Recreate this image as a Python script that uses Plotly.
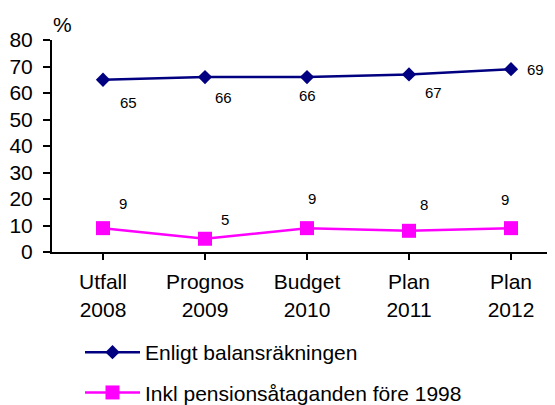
import plotly.graph_objects as go

categories = ["Utfall<br>2008", "Prognos<br>2009", "Budget<br>2010", "Plan<br>2011", "Plan<br>2012"]
balans = [65, 66, 66, 67, 69]
inkl = [9, 5, 9, 8, 9]
name_balans = "Enligt balansräkningen"
name_inkl = "Inkl pensionsåtaganden före 1998"

# label offsets in pixels (dx, dy downward)
off_balans = [(25, 23), (18, 20), (0, 18), (24, 18), (24, 0)]
off_inkl = [(20, -25), (20, -19), (5, -30), (15, -26), (-6, -29)]

font = "Liberation Sans, Arial, sans-serif"
xs = list(range(len(categories)))

# page body has an 8px margin; figure is sized/placed to compensate
W, H = 547, 397
L, T, B = 44, 32, 153
PW, PH = W - L, H - T - B

fig = go.Figure()
fig.add_trace(go.Scatter(
    x=xs, y=balans, mode="lines+markers", name=name_balans,
    line=dict(color="#000080", width=2.5),
    marker=dict(symbol="diamond", size=11, color="#000080"),
    legendgroup="a", cliponaxis=False,
))
fig.add_trace(go.Scatter(
    x=xs, y=inkl, mode="lines+markers", name=name_inkl,
    line=dict(color="#FF00FF", width=2.5),
    marker=dict(symbol="square", size=14, color="#FF00FF"),
    legendgroup="b", cliponaxis=False,
))

ann = []
for xv, v, (dx, dy) in zip(xs, balans, off_balans):
    ann.append(dict(x=xv, y=v, xref="x", yref="y", text=str(v), showarrow=False,
                    xshift=dx, yshift=-dy, font=dict(size=15, color="black", family=font)))
for xv, v, (dx, dy) in zip(xs, inkl, off_inkl):
    ann.append(dict(x=xv, y=v, xref="x", yref="y", text=str(v), showarrow=False,
                    xshift=dx, yshift=-dy, font=dict(size=15, color="black", family=font)))
ann.append(dict(x=10 / PW, y=(PH + 16) / PH, xref="paper", yref="paper",
                text="%", showarrow=False, xanchor="center", yanchor="middle",
                font=dict(size=21, color="black", family=font)))

fig.update_layout(
    width=W, height=H,
    margin=dict(l=L, r=0, t=T, b=B, pad=0, autoexpand=False),
    plot_bgcolor="white", paper_bgcolor="white",
    font=dict(family=font, size=21, color="black"),
    showlegend=True,
    legend=dict(x=28 / PW, y=-80 / PH, xanchor="left", yanchor="top",
                orientation="v", tracegroupgap=10, itemwidth=55,
                font=dict(size=21, family=font)),
    annotations=ann,
)
fig.update_xaxes(
    range=[-0.5, 4.5 - 7 / 102], tickvals=xs, ticktext=categories,
    showline=True, linecolor="black", linewidth=2, showgrid=False, zeroline=False,
    ticks="outside", ticklen=6, tickwidth=2, tickcolor="black", tickson="boundaries",
    ticklabelstandoff=4, tickfont=dict(size=21), automargin=False,
)
fig.update_yaxes(
    range=[0, 80], dtick=10,
    showline=True, linecolor="black", linewidth=2, showgrid=False, zeroline=False,
    ticks="outside", ticklen=7, tickwidth=2, tickcolor="black",
    ticklabelstandoff=6, tickfont=dict(size=21), automargin=False,
)
fig.write_html("out.html")
